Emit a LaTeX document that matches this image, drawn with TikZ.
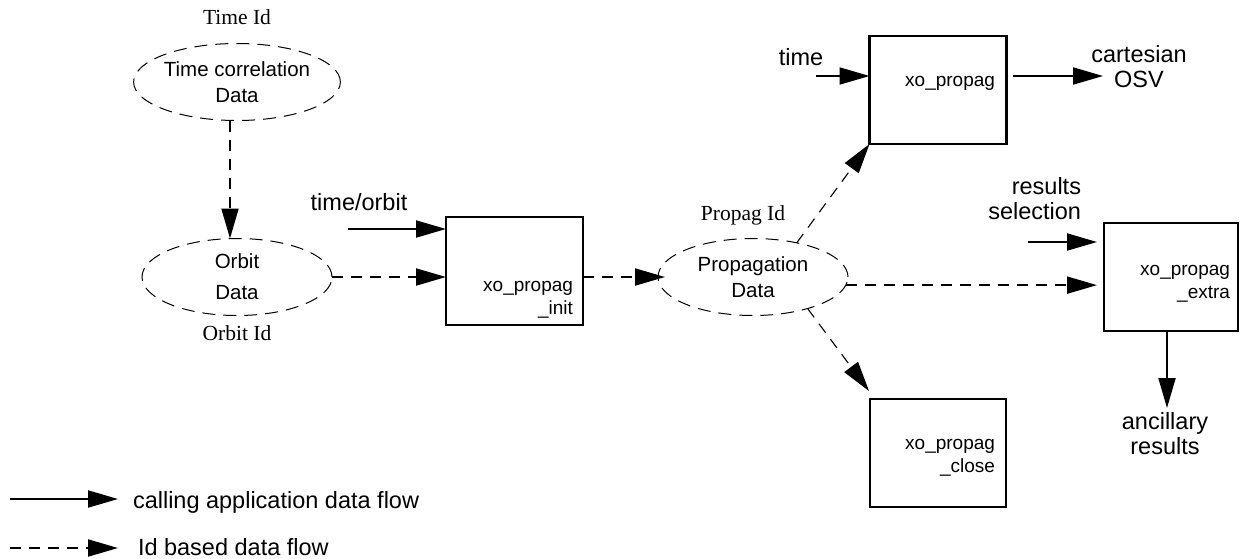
\documentclass[tikz,border=0pt]{standalone}
\usepackage{fontspec}
\setmainfont{Liberation Sans}
\newfontfamily\idfont{Liberation Serif}
\usetikzlibrary{arrows.meta,shapes.geometric}
\begin{document}
\begin{tikzpicture}[x=1pt,y=-1pt,
  every node/.style={inner sep=0pt, outer sep=0pt},
  datael/.style={draw, ellipse, dash pattern=on 13pt off 8pt, line width=1pt, minimum width=190pt, minimum height=77pt, align=center, font=\fontsize{20.5}{26}\selectfont},
  procbox/.style={draw, rectangle, line width=2.5pt, minimum width=137pt, minimum height=108pt},
  boxtext/.style={anchor=east, align=right, font=\fontsize{19}{23}\selectfont},
  lbl/.style={align=center, font=\fontsize{23.5}{25}\selectfont},
  idlbl/.style={font=\idfont\fontsize{21.5}{24}\selectfont},
  flow/.style={line width=2pt, -{Triangle[length=30pt,width=17pt]}},
  idflow/.style={flow, dash pattern=on 11pt off 8pt},
  idflowthin/.style={line width=1.1pt, dash pattern=on 11pt off 8pt, -{Triangle[length=30pt,width=17pt]}}
]
\useasboundingbox (0,0) rectangle (1240,558);

% nodes
\node[idlbl] (timeid) at (237,17) {Time Id};
\node[datael] (tc) at (237,82) {Time correlation\\Data};
\node[datael] (orbit) at (237,277) {Orbit\\[5pt]Data};
\node[idlbl] (orbitid) at (237,333) {Orbit Id};
\node[lbl] (timeorbit) at (359,202) {time/orbit};
\node[procbox] (init) at (514.5,271) {};
\node[boxtext] (initt) at (573,299.5) {xo\_propag\\\_init};
\node[datael] (prop) at (753,277) {Propagation\\Data};
\node[idlbl] (propid) at (743,215) {Propag Id};
\node[procbox] (propag) at (938,90) {};
\node[boxtext] (propagt) at (995,83) {xo\_propag};
\node[lbl] (time) at (801,57) {time};
\node[lbl] (cart) at (1139,67) {cartesian\\OSV};
\node[procbox, minimum width=136pt] (close) at (938,453) {};
\node[boxtext] (closet) at (995,458) {xo\_propag\\\_close};
\node[procbox, minimum width=134pt] (extra) at (1171,277) {};
\node[boxtext] (extrat) at (1230,283.5) {xo\_propag\\\_extra};
\node[lbl, align=right, anchor=east] (ressel) at (1081,199) {results\\selection};
\node[lbl] (anc) at (1165,433.5) {ancillary\\results};
\node[lbl, anchor=west] (leg1) at (133,502) {calling application data flow};
\node[lbl, anchor=west] (leg2) at (138,547) {Id based data flow};

% free ends
\coordinate (toin) at (348,229);
\coordinate (tin) at (816,76);
\coordinate (cout) at (1013,76);
\coordinate (cend) at (1103,76);
\coordinate (rsin) at (1028,242);
\coordinate (ancend) at (1167,408);
\coordinate (closeend) at (869,391);
\coordinate (l1a) at (10,499);
\coordinate (l1b) at (118,499);
\coordinate (l2a) at (10,548);
\coordinate (l2b) at (118,548);

% connectors
\draw[idflow] ([xshift=-7pt]tc.south) -- ([xshift=-7pt]orbit.north);
\draw[flow] (toin) -- (toin -| init.west);
\draw[idflow] (orbit.east) -- (orbit.east -| init.west);
\draw[idflow] (init.east |- prop.west) -- ([xshift=7pt]prop.west);
\draw[idflowthin] (prop.38) -- (propag.south west);
\draw[idflowthin] (prop.-30) -- (closeend);
\draw[idflow, shorten >=7pt] (prop.-5) -- (prop.-5 -| extra.west);
\draw[flow] (tin) -- (tin -| propag.west);
\draw[flow] (cout) -- (cend);
\draw[flow, shorten >=7pt] (rsin) -- (rsin -| extra.west);
\draw[flow] (extra.south -| ancend) -- (ancend);
\draw[flow] (l1a) -- (l1b);
\draw[idflow] (l2a) -- (l2b);
\end{tikzpicture}
\end{document}
